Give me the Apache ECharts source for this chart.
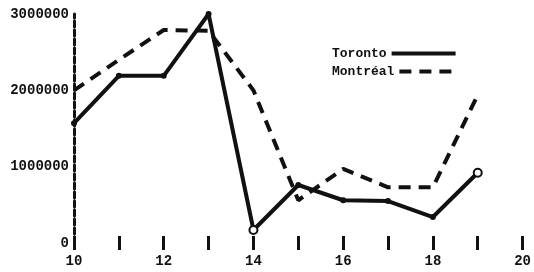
<!DOCTYPE html>
<html>
<head>
<meta charset="utf-8">
<script src="https://cdn.jsdelivr.net/npm/echarts@6/dist/echarts.min.js"></script>
<style>
  html, body { margin: 0; padding: 0; background: #fff; }
  #chart { width: 534px; height: 272px; }
</style>
</head>
<body>
<div id="chart"></div>
<script>
// years / values
var years = [10, 11, 12, 13, 14, 15, 16, 17, 18, 19]
var toronto = [1570000, 2190000, 2190000, 3000000, 170000, 760000, 560000, 550000, 340000, 920000]
var montreal = [2000000, 2400000, 2790000, 2780000, 2000000, 560000, 970000, 730000, 730000, 1940000]
var hollowAt = [14, 19] // points drawn as open circles on the Toronto line

var ink = '#111'
var font = 'Liberation Mono'

function pairs(vals) {
  return years.map(function (y, i) { return [y, vals[i]] })
}

// one legend per row so both texts start at the same x
function legendRow(name, top, w) {
  return {
    left: 327,
    top: top,
    align: 'right',
    itemWidth: w,
    itemHeight: 8,
    itemStyle: { opacity: 0 },
    lineStyle: { width: 4 },
    textStyle: { fontFamily: font, fontWeight: 'bold', fontSize: 13, color: ink },
    data: [name]
  }
}

var chart = echarts.init(document.getElementById('chart'))
chart.setOption({
  animation: false,
  backgroundColor: '#fff',
  grid: { left: 74, right: 0, top: 14, bottom: 29 },
  legend: [legendRow('Toronto', 42, 64), legendRow('Montréal', 60, 56)],
  xAxis: [{
    type: 'value',
    min: 10,
    max: 20,
    interval: 1,
    axisLine: { show: false },
    splitLine: { show: false },
    axisTick: { show: true, length: 7, lineStyle: { color: ink, width: 3 } },
    axisLabel: {
      margin: 11,
      color: ink,
      fontFamily: font,
      fontWeight: 'bold',
      fontSize: 14,
      formatter: function (v) { return v % 2 === 0 ? String(v) : '' }
    }
  }, {
    type: 'value',
    min: 10,
    max: 20,
    interval: 1,
    position: 'bottom',
    axisLine: { show: false },
    splitLine: { show: false },
    axisLabel: { show: false },
    axisTick: { show: true, inside: true, length: 7, lineStyle: { color: ink, width: 3 } }
  }],
  yAxis: {
    type: 'value',
    min: 0,
    max: 3000000,
    interval: 1000000,
    splitLine: { show: false },
    axisTick: { show: false },
    axisLine: { show: true, lineStyle: { color: ink, width: 3, type: [6, 3] } },
    axisLabel: {
      margin: 5,
      color: ink,
      fontFamily: font,
      fontWeight: 'bold',
      fontSize: 14,
      formatter: function (v) { return String(v) }
    }
  },
  series: [{
    name: 'Toronto',
    type: 'line',
    symbol: 'circle',
    symbolSize: 6,
    itemStyle: { color: ink },
    lineStyle: { color: ink, width: 4 },
    data: pairs(toronto).map(function (p) {
      if (hollowAt.indexOf(p[0]) >= 0) {
        return { value: p, itemStyle: { color: '#fff', borderColor: ink, borderWidth: 2 }, symbolSize: 8 }
      }
      return p
    })
  }, {
    name: 'Montréal',
    type: 'line',
    showSymbol: false,
    symbol: 'circle',
    itemStyle: { color: ink },
    lineStyle: { color: ink, width: 4, type: [12, 8] },
    data: pairs(montreal)
  }]
})
</script>
</body>
</html>
